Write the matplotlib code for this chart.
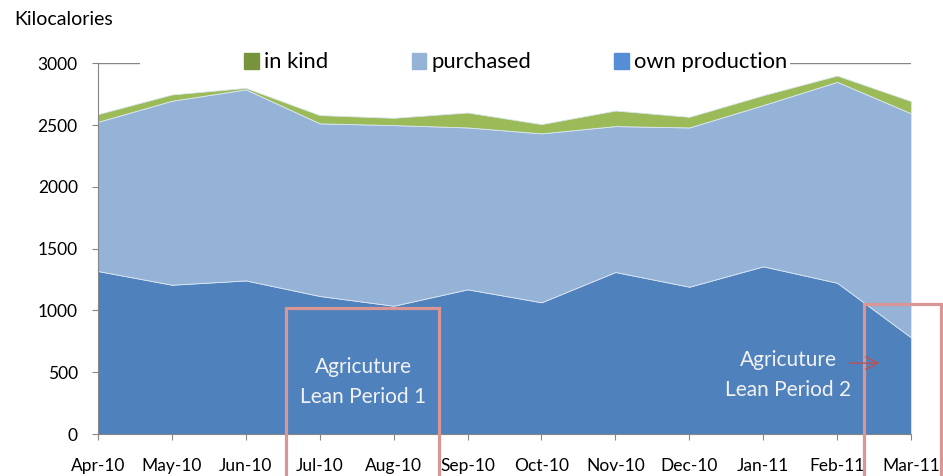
import matplotlib
matplotlib.use("Agg")
import matplotlib.pyplot as plt
from matplotlib.patches import Patch, Rectangle

months = ["Apr-10", "May-10", "Jun-10", "Jul-10", "Aug-10", "Sep-10",
          "Oct-10", "Nov-10", "Dec-10", "Jan-11", "Feb-11", "Mar-11"]
own_production = [1319, 1208, 1243, 1117, 1038, 1171, 1066, 1311, 1192, 1357, 1224, 782]
purchased = [1208, 1489, 1546, 1397, 1462, 1310, 1367, 1181, 1289, 1305, 1626, 1813]
in_kind = [62, 51, 12, 67, 59, 121, 75, 126, 86, 80, 51, 99]

plt.rcParams['font.family'] = ['Lato', 'DejaVu Sans']

fig = plt.figure(figsize=(9.43, 4.76), dpi=100)
ax = fig.add_axes([0.1039, 0.0882, 0.8622, 0.7788])

x = list(range(len(months)))
ax.stackplot(x, own_production, purchased, in_kind,
             colors=['#4F81BD', '#95B3D7', '#9BBB59'],
             edgecolor='#DCE6F2', linewidth=0.6, zorder=2)

ax.set_xlim(0, 11)
ax.set_ylim(0, 3000)
ax.set_yticks([0, 500, 1000, 1500, 2000, 2500, 3000])
ax.set_xticks(x)
ax.set_xticklabels(months)
ax.yaxis.grid(True, color='#868686', linewidth=1)
ax.set_axisbelow(True)
for s in ['top', 'right']:
    ax.spines[s].set_visible(False)
for s in ['left', 'bottom']:
    ax.spines[s].set_color('#868686')
ax.tick_params(axis='both', colors='#868686', labelcolor='black', labelsize=12.5,
               length=4.5, direction='out')
ax.tick_params(axis='x', pad=13)
ax.tick_params(axis='y', pad=10)

fig.text(0.015, 0.958, "Kilocalories", fontsize=14, va='center', ha='left')

# lean period boxes
ax.add_patch(Rectangle((2.54, -400), 2.08, 1417, fill=False, edgecolor='#D99694',
                       linewidth=2.3, clip_on=False, zorder=5))
ax.add_patch(Rectangle((10.37, -400), 1.04, 1449, fill=False, edgecolor='#D99694',
                       linewidth=2.3, clip_on=False, zorder=5))
ax.text(3.586, 422, "Agricuture\nLean Period 1", color='#F2F2F2', fontsize=15,
        ha='center', va='center', linespacing=1.6, zorder=6)
ax.text(9.34, 480, "Agricuture\nLean Period 2", color='#F2F2F2', fontsize=15,
        ha='center', va='center', linespacing=1.6, zorder=6)
ax.annotate("", xy=(10.61, 574), xytext=(10.135, 574),
            arrowprops=dict(arrowstyle='->', color='#C0504D', lw=1, mutation_scale=22),
            zorder=6)

# white legend area hiding the top gridline
fig.patches.append(Rectangle((140 / 943, 0.853), 650 / 943, 0.05, transform=fig.transFigure,
                             facecolor='white', edgecolor='none', zorder=3))

handles = [Patch(color='#77933C', label='in kind'),
           Patch(color='#95B3D7', label='purchased'),
           Patch(color='#558ED5', label='own production')]
fig.legend(handles=handles, loc='center', bbox_to_anchor=(0.547, 0.869), ncol=3,
           fontsize=15.8, frameon=False, handlelength=0.65, handleheight=0.75,
           handletextpad=0.25, columnspacing=3.8, borderpad=0.2)

fig.savefig("out.png", dpi=100)
